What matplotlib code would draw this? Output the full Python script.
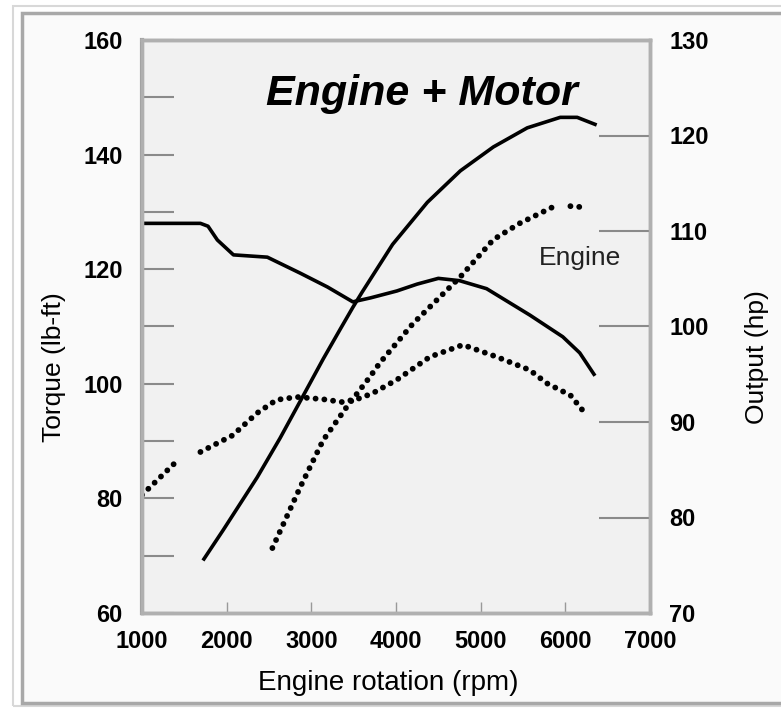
import numpy as np
import matplotlib
matplotlib.use('Agg')
from matplotlib import pyplot as plt
from matplotlib.patches import Rectangle

plt.rcParams['font.family'] = ['Liberation Sans', 'DejaVu Sans']

nan = np.nan

# engine + motor torque (lb-ft), solid
rpm_tq_total = [1000, 1690, 1780, 1890, 2080, 2480, 2870, 3190, 3490, 3700, 4010, 4250, 4500, 4750, 5070, 5580, 5970, 6170, 6350]
tq_total = [128, 128, 127.5, 125.1, 122.5, 122.1, 119.3, 116.9, 114.3, 115.0, 116.2, 117.4, 118.4, 118.0, 116.6, 112.0, 108.2, 105.4, 101.4]

# engine torque (lb-ft), dotted
rpm_tq_engine = [1000, 1390, nan, 1690, 2070, 2360, 2590, 2830, 3140, 3370, 3580, 3730, 4010, 4400, 4790, 5190, 5580, 5780, 6060, 6230]
tq_engine = [80.6, 86.2, nan, 88.1, 91.0, 94.9, 97.2, 97.7, 97.3, 96.8, 97.5, 98.4, 100.7, 104.7, 106.8, 104.7, 102.4, 100.1, 98.0, 94.9]

# engine + motor output (hp), solid
rpm_pw_total = [1720, 1960, 2360, 2630, 2870, 3140, 3340, 3490, 3600, 3960, 4370, 4760, 5150, 5550, 5940, 6140, 6370]
pw_total = [75.5, 78.7, 84.2, 88.3, 92.2, 96.6, 99.7, 102.0, 103.6, 108.6, 113.0, 116.3, 118.8, 120.8, 121.9, 121.9, 121.1]

# engine output (hp), dotted
rpm_pw_engine = [2540, 2870, 3140, 3420, 3690, 3810, 4200, 4760, 5150, 5460, 5850, nan, 6060, 6200]
pw_engine = [76.8, 83.2, 88.1, 91.6, 94.7, 96.2, 100.3, 105.2, 109.1, 110.8, 112.5, nan, 112.6, 112.5]

x_ticks = [1000, 2000, 3000, 4000, 5000, 6000, 7000]
tq_ticks = [60, 80, 100, 120, 140, 160]
pw_ticks = [70, 80, 90, 100, 110, 120, 130]

fig = plt.figure(figsize=(7.81, 7.08), dpi=100)
fig.patch.set_facecolor('white')
# picture frame
fig.patches.append(Rectangle((13/781, 1-706/708), 2, 700/708, transform=fig.transFigure,
                             facecolor='none', edgecolor='#d8d8d8', lw=1.5, zorder=-10))
fig.patches.append(Rectangle((22/781, 1-703/708), 2, 690/708, transform=fig.transFigure,
                             facecolor='#fafafa', edgecolor='#a8a8a8', lw=2.5, zorder=-9))

ax = fig.add_axes([142/781, 1-613/708, 508/781, 573/708])
ax.set_facecolor('#f1f1f1')
ax2 = ax.twinx()

dot = dict(color='black', lw=4.2, linestyle=(0, (0.01, 1.5)), dash_capstyle='round')
ax.plot(rpm_tq_total, tq_total, color='black', lw=2.6, solid_capstyle='butt')
ax.plot(rpm_tq_engine, tq_engine, **dot)
ax2.plot(rpm_pw_total, pw_total, color='black', lw=2.6, solid_capstyle='butt')
ax2.plot(rpm_pw_engine, pw_engine, **dot)

ax.set_xlim(1000, 7000)
ax.set_ylim(60, 160)
ax2.set_ylim(70, 130)

ax.set_xticks(x_ticks)
ax.set_yticks(tq_ticks)
ax.set_yticks(np.arange(70, 160, 20), minor=True)
ax2.set_yticks(pw_ticks)

fs = 17
ax.set_xticklabels([str(v) for v in x_ticks], fontsize=fs, fontweight='bold')
ax.set_yticklabels([str(v) for v in tq_ticks], fontsize=fs, fontweight='bold')
ax2.set_yticklabels([str(v) for v in pw_ticks], fontsize=fs, fontweight='bold')

ax.tick_params(axis='x', direction='in', length=8, width=1, color='#999999', pad=12)
ax.tick_params(axis='y', which='both', direction='in', length=23, width=1.5, color='#8a8a8a', pad=14)
ax2.tick_params(axis='y', direction='in', length=37, width=1.5, color='#8a8a8a', pad=14)

for a in (ax, ax2):
	for s in a.spines.values():
		s.set_color('#b0b0b0')
		s.set_linewidth(2.5)
ax.spines['left'].set_color('#a0a0a0')
ax.spines['left'].set_linewidth(3)

ax.set_xlabel('Engine rotation (rpm)', fontsize=20)
ax.xaxis.set_label_coords(0.484, -0.1)
ax.set_ylabel('Torque (lb-ft)', fontsize=19)
ax.yaxis.set_label_coords(-0.15, 0.429)
ax2.set_ylabel('Output (hp)', fontsize=19)
ax2.yaxis.set_label_coords(1.187, 0.447)

ax.text(0.551, 0.905, 'Engine + Motor', transform=ax.transAxes, fontsize=31,
        fontweight='bold', fontstyle='italic', ha='center', va='center')
ax.text(6170, 122, 'Engine', fontsize=19, color='#222222', ha='center', va='center')

fig.savefig('out.png', dpi=100)
